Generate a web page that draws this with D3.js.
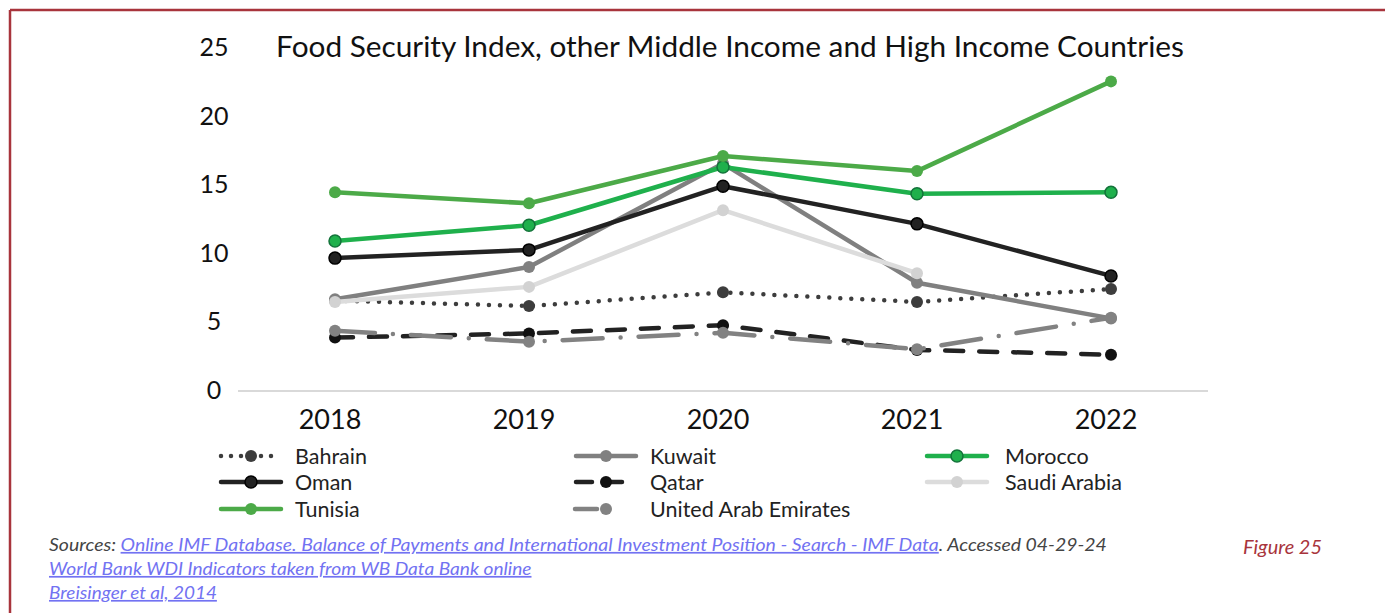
<!DOCTYPE html>
<html>
<head>
<meta charset="utf-8">
<script src="https://cdn.jsdelivr.net/npm/d3@7"></script>
<style>
  html, body { margin: 0; padding: 0; background: #fff; }
  svg { display: block; }
  text { font-family: Lato, "Noto Sans", sans-serif; }
</style>
</head>
<body>
<script>
// Food Security Index by year
const years = ["2018", "2019", "2020", "2021", "2022"];
const yTicks = [0, 5, 10, 15, 20, 25];

const bahrain = [6.6, 6.2, 7.2, 6.5, 7.45];
const kuwait  = [6.7, 9.05, 16.6, 7.9, 5.3];
const morocco = [10.95, 12.1, 16.35, 14.4, 14.5];
const oman    = [9.7, 10.3, 14.95, 12.2, 8.4];
const qatar   = [3.9, 4.2, 4.8, 3.0, 2.65];
const saudi   = [6.5, 7.6, 13.2, 8.6, null];
const tunisia = [14.5, 13.7, 17.15, 16.05, 22.6];
const uae     = [4.4, 3.6, 4.25, 3.05, 5.35];

const seriesNames = ["Bahrain", "Kuwait", "Morocco", "Oman", "Qatar", "Saudi Arabia", "Tunisia", "United Arab Emirates"];
const seriesValues = [bahrain, kuwait, morocco, oman, qatar, saudi, tunisia, uae];

// Line look per series
const styles = {
  "Bahrain":              { color: "#3d3d3d", dash: "0 11",          mark: "#3d3d3d", markStroke: "none",    r: 6 },
  "Kuwait":               { color: "#808080", dash: null,            mark: "#808080", markStroke: "none",    r: 6 },
  "Morocco":              { color: "#1fb04c", dash: null,            mark: "#1fb04c", markStroke: "#13733a", r: 6 },
  "Oman":                 { color: "#222222", dash: null,            mark: "#222222", markStroke: "#000",    r: 6 },
  "Qatar":                { color: "#222222", dash: "18 16",         mark: "#111111", markStroke: "none",    r: 6 },
  "Saudi Arabia":         { color: "#dcdcdc", dash: null,            mark: "#d2d2d2", markStroke: "none",    r: 6 },
  "Tunisia":              { color: "#4caa48", dash: null,            mark: "#4caa48", markStroke: "none",    r: 6 },
  "United Arab Emirates": { color: "#828282", dash: "40 18 0 18",    mark: "#828282", markStroke: "none",    r: 6 }
};

const W = 1385, H = 613;
const svg = d3.select("body").append("svg").attr("width", W).attr("height", H);

// Frame accent
svg.append("line").attr("x1", 10).attr("x2", W).attr("y1", 10).attr("y2", 10)
  .attr("stroke", "#a8343c").attr("stroke-width", 2.5);
svg.append("line").attr("x1", 10).attr("x2", 10).attr("y1", 10).attr("y2", H)
  .attr("stroke", "#a8343c").attr("stroke-width", 2.5);

const x = d3.scaleBand().domain(years).range([238, 1208]);
const y = d3.scaleLinear().domain([0, 25]).range([391, 48.5]);
const cx = d => x(d) + x.bandwidth() / 2;

// Title
const title = svg.append("text")
  .attr("x", 730).attr("y", 57)
  .attr("text-anchor", "middle")
  .attr("fill", "#111")
  .style("font-size", "25px")
  .text("Food Security Index, other Middle Income and High Income Countries");
{
  const w = title.node().getComputedTextLength();
  title.style("font-size", (25 * 908 / w).toFixed(2) + "px");
}

// Y axis labels
const yAxis = svg.append("g").attr("transform", "translate(214,-1)")
  .call(d3.axisLeft(y).tickValues(yTicks).tickSize(0).tickPadding(0));
yAxis.select(".domain").remove();
yAxis.selectAll("text")
  .attr("text-anchor", "middle")
  .attr("fill", "#111")
  .style("font-size", "25px");

// X axis baseline and labels
svg.append("line").attr("x1", 238).attr("x2", 1208).attr("y1", y(0)).attr("y2", y(0))
  .attr("stroke", "#d9d9d9").attr("stroke-width", 2);

const xAxis = svg.append("g").attr("transform", `translate(-5,${y(0)})`)
  .call(d3.axisBottom(x).tickSize(0).tickPadding(19));
xAxis.select(".domain").remove();
xAxis.selectAll("text").attr("fill", "#111").style("font-size", "27px");

// Series lines and markers
const lineGen = d3.line()
  .defined(d => d.v != null)
  .x(d => cx(d.year))
  .y(d => y(d.v));

seriesNames.forEach((name, i) => {
  const st = styles[name];
  const pts = years.map((yr, j) => ({ year: yr, v: seriesValues[i][j] }));
  const g = svg.append("g");
  g.append("path")
    .datum(pts)
    .attr("d", lineGen)
    .attr("fill", "none")
    .attr("stroke", st.color)
    .attr("stroke-width", 4.5)
    .attr("stroke-linecap", st.dash ? "round" : "butt")
    .attr("stroke-linejoin", "round")
    .attr("stroke-dasharray", st.dash);
  g.selectAll("circle")
    .data(pts.filter(d => d.v != null))
    .join("circle")
    .attr("cx", d => cx(d.year))
    .attr("cy", d => y(d.v))
    .attr("r", st.r)
    .attr("fill", st.mark)
    .attr("stroke", st.markStroke === "none" ? null : st.markStroke)
    .attr("stroke-width", 1.5);
});

// Legend (three columns, rows filled left to right)
const legendCols = [218, 573, 924];
const legendRows = [456, 482, 509];
seriesNames.forEach((name, i) => {
  const st = styles[name];
  const lx = legendCols[i % 3];
  const ly = legendRows[Math.floor(i / 3)];
  const g = svg.append("g").attr("transform", `translate(${lx},${ly})`);
  let dash = st.dash;
  if (name === "Bahrain") dash = "0 10";
  if (name === "Qatar") dash = "16 14";
  if (name === "United Arab Emirates") dash = "22 40 0 40";
  g.append("line")
    .attr("x1", name === "United Arab Emirates" ? 2 : 3).attr("x2", 63)
    .attr("y1", 0).attr("y2", 0)
    .attr("stroke", st.color)
    .attr("stroke-width", 4.5)
    .attr("stroke-linecap", "round")
    .attr("stroke-dasharray", dash);
  g.append("circle")
    .attr("cx", 33).attr("cy", 0).attr("r", st.r)
    .attr("fill", st.mark)
    .attr("stroke", st.markStroke === "none" ? null : st.markStroke)
    .attr("stroke-width", 1.5);
  g.append("text")
    .attr("x", i % 3 === 2 ? 81 : 77).attr("y", 7.5)
    .attr("fill", "#222")
    .style("font-size", "21.5px")
    .text(name);
});

// Source notes
function fitLine(sel, x0, targetWidth) {
  const w = sel.node().getBBox().width;
  const s = targetWidth / w;
  sel.attr("transform", `translate(${x0},0) scale(${s},1)`);
}

const linkColor = "#7272f2";
const src1 = svg.append("text").attr("y", 551).style("font-size", "17px").style("font-style", "italic");
src1.append("tspan").attr("fill", "#444").text("Sources: ");
src1.append("tspan").attr("fill", linkColor).style("text-decoration", "underline")
  .text("Online IMF Database. Balance of Payments and International Investment Position - Search - IMF Data");
src1.append("tspan").attr("fill", "#444").text(". Accessed 04-29-24");
fitLine(src1, 49, 1059);

const src2 = svg.append("text").attr("y", 575).style("font-size", "17px").style("font-style", "italic")
  .attr("fill", linkColor).style("text-decoration", "underline")
  .text("World Bank WDI Indicators taken from WB Data Bank online");
fitLine(src2, 49, 483);

const src3 = svg.append("text").attr("y", 599).style("font-size", "17px").style("font-style", "italic")
  .attr("fill", linkColor).style("text-decoration", "underline")
  .text("Breisinger et al, 2014");
fitLine(src3, 49, 168);

const fig = svg.append("text")
  .attr("y", 554)
  .attr("fill", "#a8343c")
  .style("font-size", "19px").style("font-style", "italic")
  .text("Figure 25");
fitLine(fig, 1243, 79);
</script>
</body>
</html>
